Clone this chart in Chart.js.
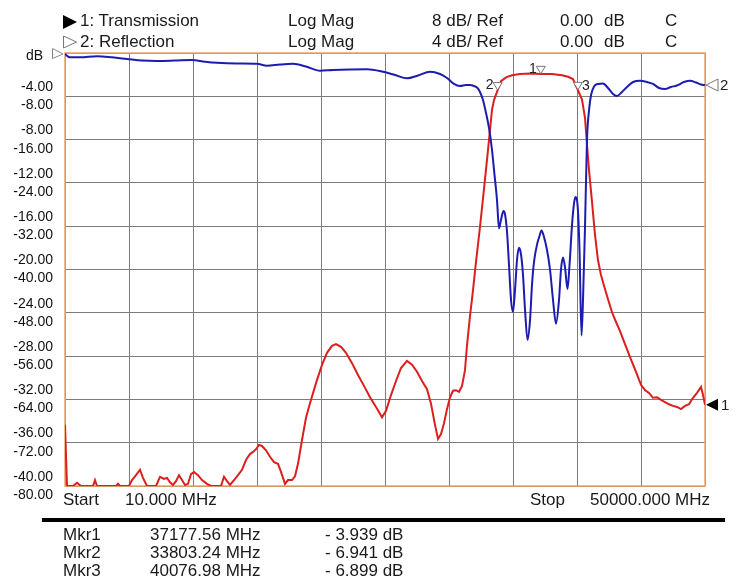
<!DOCTYPE html>
<html>
<head>
<meta charset="utf-8">
<title>Transmission / Reflection</title>
<script src="https://cdn.jsdelivr.net/npm/chart.js@4.4.1/dist/chart.umd.min.js"></script>
<style>
  body { margin: 0; background: #fff; font-family: "Liberation Sans", Arial, sans-serif; color: #1a1a1a; }
  #wrap { position: relative; width: 739px; height: 584px; overflow: hidden; }
  #vna { position: absolute; left: 0; top: 0; }
  .t { position: absolute; font-size: 17px; line-height: 20px; white-space: pre; }
  #rule { position: absolute; left: 42px; top: 518px; width: 683px; height: 4px; background: #000; }
</style>
</head>
<body>
<div id="wrap">
  <canvas id="vna" width="739" height="584"></canvas>
  <div id="rule"></div>
</div>
<script>
// sweep
const startMHz = 10;
const stopMHz = 50000;
const divisions = 10;

// channel header
const traceNames = ['1: Transmission', '2: Reflection'];
const traceFormat = ['Log Mag', 'Log Mag'];
const tracePerDiv = [8, 4];
const traceRef = [0, 0];

// trace 1 - transmission (dB, 8 dB/div)
const trace1Freq = [10,166,635,947,1260,2197,2353,2510,3994,4150,
  4306,5009,5243,5556,5868,6102,6415,7118,7430,7743,
  7977,8211,8446,8680,8914,9149,9383,9617,9852,10086,
  10398,10711,11101,11414,12195,12429,12664,12898,13210,13523,
  13835,14148,14460,14694,14929,15163,15397,15710,16022,16335,
  16647,16882,17194,17428,17741,17975,18209,18522,18834,19147,
  19616,20084,20475,20865,21178,21568,21959,22428,22897,23365,
  23834,24303,24771,25084,25474,25865,26255,26724,27115,27505,
  27896,28286,28599,28911,29145,29380,29614,29848,30083,30317,
  30551,30786,31020,31254,31410,31645,31879,32114,32426,32739,
  33051,33207,33364,33520,33754,34067,34457,34926,35551,36332,
  37191,38050,38831,39300,39690,40081,40393,40627,40784,40940,
  41174,41408,41643,41877,42111,42424,42736,43049,43362,43752,
  44143,44611,45001,45314,45626,45939,46251,46564,46876,47189,
  47501,47814,48126,48439,48751,49064,49376,49689,49845,50000];
const trace1Db = [-68.7,-80,-80,-79.4,-80,-80,-78.9,-80,-80,-79.6,
  -80,-80,-78.9,-78.0,-77.0,-78.5,-80,-80,-78.3,-78.7,
  -78.5,-79.3,-79.8,-79.1,-78.0,-78.9,-79.8,-79.6,-77.8,-77.4,
  -78.0,-78.9,-79.6,-80,-80,-78.3,-79.1,-79.8,-78.9,-78.0,
  -77.0,-75.2,-74.1,-73.7,-73.2,-72.4,-72.6,-73.4,-74.6,-75.6,
  -75.9,-77.4,-79.6,-78.9,-78.9,-78.2,-75.9,-71.5,-67.4,-64.7,
  -61.0,-57.6,-55.4,-54.1,-53.8,-54.3,-55.4,-57.3,-59.5,-61.5,
  -63.6,-65.4,-67.3,-66.1,-63.2,-60.6,-58.2,-56.9,-57.6,-58.9,
  -60.6,-62.1,-64.8,-68.7,-71.3,-70.4,-68.4,-65.8,-63.6,-62.4,
  -62.3,-62.6,-61.5,-58.6,-54.0,-48.6,-43.8,-38.6,-32.1,-25.1,
  -17.9,-14.2,-10.5,-8.7,-7.2,-5.2,-4.5,-4.1,-3.9,-3.8,
  -3.9,-3.9,-4.1,-4.4,-4.8,-6.9,-8.6,-12.0,-17.0,-21.6,
  -27.5,-33.6,-38.3,-41.0,-43.0,-45.5,-47.9,-49.7,-51.4,-53.8,
  -56.2,-58.9,-61.3,-62.3,-62.8,-63.7,-63.6,-64.1,-64.5,-64.9,
  -65.2,-65.4,-65.8,-65.2,-64.9,-63.7,-62.8,-61.7,-63.2,-65.0];

// trace 2 - reflection (dB, 4 dB/div)
const trace2Freq = [10,400,1182,2510,3681,4853,6024,7196,8602,9930,
  10945,11883,13445,15007,15788,16804,17819,18834,19928,20943,
  22271,23599,24849,25786,26724,27583,28520,29301,29848,30395,
  30864,31332,31645,31958,32192,32426,32660,32895,33129,33364,
  33520,33754,33910,34067,34262,34379,34535,34692,34848,35004,
  35160,35317,35473,35629,35785,35942,36137,36332,36488,36645,
  36879,37074,37230,37426,37660,37894,38128,38362,38597,38753,
  38909,39066,39261,39417,39612,39769,39886,40042,40198,40354,
  40471,40627,40784,40940,41096,41330,41643,42033,42424,42814,
  43127,43518,43908,44377,44924,45470,45939,46407,46876,47345,
  47814,48360,48829,49298,49689,50000];
const trace2Db = [-0.1,-0.4,-0.4,-0.3,-0.4,-0.55,-0.7,-0.74,-0.7,-0.65,
  -0.8,-0.9,-0.97,-1.0,-1.17,-1.06,-1.0,-1.25,-1.64,-1.57,
  -1.52,-1.5,-1.73,-2.03,-2.34,-2.08,-1.73,-1.94,-2.31,-2.86,
  -3.05,-2.96,-2.96,-3.05,-3.19,-3.6,-4.34,-5.54,-6.93,-8.96,
  -10.8,-13.6,-16.2,-15.4,-14.6,-14.9,-16.5,-19.6,-22.8,-23.9,
  -21.9,-19.1,-18.0,-18.6,-20.5,-23.7,-26.5,-24.7,-21.4,-19.3,
  -17.7,-16.9,-16.4,-17.0,-18.2,-20.0,-22.8,-25.0,-22.8,-20.0,
  -18.9,-19.8,-21.8,-19.6,-15.9,-13.9,-13.3,-14.0,-18.2,-26.1,
  -22.8,-16.1,-8.0,-5.3,-3.9,-3.1,-2.86,-2.82,-3.23,-3.79,
  -3.97,-3.6,-3.14,-2.68,-2.56,-2.68,-2.86,-3.23,-3.33,-3.14,
  -3.0,-2.68,-2.56,-2.73,-2.91,-2.96];

// markers (on trace 1)
const mkrNames = ['Mkr1', 'Mkr2', 'Mkr3'];
const mkrFreq = [37177.56, 33803.24, 40076.98];
const mkrDb = [-3.939, -6.941, -6.899];

const RED = '#dc1e1e';
const BLUE = '#1c1cb0';
const FRAME = '#eca466';
const GRID = '#7c7c7c';

// ---- text around the plot (real html text) ----
const wrap = document.getElementById('wrap');
function addText(str, left, centerY, size) {
  const d = document.createElement('div');
  d.className = 't';
  d.textContent = str;
  d.style.left = left + 'px';
  d.style.top = (centerY - 10) + 'px';
  if (size) d.style.fontSize = size + 'px';
  wrap.appendChild(d);
}
traceNames.forEach((name, i) => {
  const cy = 21 + i * 21;
  addText(name, 80, cy);
  addText(traceFormat[i], 288, cy);
  addText(tracePerDiv[i] + ' dB/ Ref', 432, cy);
  addText(traceRef[i].toFixed(2), 560, cy);
  addText('dB', 604, cy);
  addText('C', 665, cy);
});
addText('Start', 63, 500);
addText(startMHz.toFixed(3) + ' MHz', 125, 500);
addText('Stop', 530, 500);
addText(stopMHz.toFixed(3) + ' MHz', 590, 500);
mkrNames.forEach((m, i) => {
  const cy = 535 + i * 18;
  addText(m, 63, cy);
  addText(mkrFreq[i].toFixed(2) + ' MHz', 150, cy);
  addText('- ' + Math.abs(mkrDb[i]).toFixed(3) + ' dB', 325, cy);
});

// ---- drawing helpers ----
function triangle(ctx, pts, fill, stroke) {
  ctx.beginPath();
  ctx.moveTo(pts[0][0], pts[0][1]);
  ctx.lineTo(pts[1][0], pts[1][1]);
  ctx.lineTo(pts[2][0], pts[2][1]);
  ctx.closePath();
  if (fill) { ctx.fillStyle = fill; ctx.fill(); }
  if (stroke) { ctx.strokeStyle = stroke; ctx.lineWidth = 1; ctx.stroke(); }
}

const vnaDecor = {
  id: 'vnaDecor',
  beforeDatasetsDraw(chart) {
    const { ctx, chartArea: a } = chart;
    ctx.save();
    ctx.strokeStyle = FRAME;
    ctx.lineWidth = 1.5;
    ctx.strokeRect(a.left, a.top, a.right - a.left, a.bottom - a.top);
    ctx.restore();
  },
  afterDatasetsDraw(chart) {
    const { ctx, chartArea: a } = chart;
    const xs = chart.scales.x, y1 = chart.scales.y, y2 = chart.scales.y2;
    ctx.save();
    ctx.font = '14px "Liberation Sans", Arial, sans-serif';
    ctx.textBaseline = 'middle';

    // header trace symbols
    triangle(ctx, [[63, 15], [77, 22], [63, 29]], '#000', null);
    triangle(ctx, [[63.5, 36], [76.5, 42], [63.5, 48]], '#fff', '#777');

    // reference marker + unit on the left
    const yRef = y1.getPixelForValue(traceRef[0]);
    ctx.fillStyle = '#111';
    ctx.textAlign = 'right';
    ctx.fillText('dB', 43, yRef + 3);
    triangle(ctx, [[52.5, yRef - 4.5], [63, yRef + 1], [52.5, yRef + 5.5]], '#fff', '#888');

    // markers on trace 1
    mkrFreq.forEach((f, i) => {
      const px = xs.getPixelForValue(f);
      const py = y1.getPixelForValue(mkrDb[i]);
      triangle(ctx, [[px - 4.5, py - 8], [px + 4.5, py - 8], [px, py - 0.5]], '#fff', '#777');
      ctx.fillStyle = '#222';
      if (i === 2) { ctx.textAlign = 'left'; ctx.fillText(String(i + 1), px + 4, py - 4); }
      else { ctx.textAlign = 'right'; ctx.fillText(String(i + 1), px - 4, py - 5); }
    });

    // end-of-sweep level markers on the right
    ctx.font = '15px "Liberation Sans", Arial, sans-serif';
    ctx.textAlign = 'left';
    const e2 = y2.getPixelForValue(trace2Db[trace2Db.length - 1]);
    triangle(ctx, [[a.right + 1, e2], [a.right + 13, e2 - 6], [a.right + 13, e2 + 6]], '#fff', '#777');
    ctx.fillStyle = '#222';
    ctx.fillText('2', a.right + 15, e2 + 1);
    const e1 = y1.getPixelForValue(trace1Db[trace1Db.length - 1]);
    triangle(ctx, [[a.right + 1, e1], [a.right + 13, e1 - 6], [a.right + 13, e1 + 6]], '#000', null);
    ctx.fillStyle = '#222';
    ctx.fillText('1', a.right + 16, e1 + 1);
    ctx.restore();
  }
};

const ctx = document.getElementById('vna').getContext('2d');
new Chart(ctx, {
  type: 'line',
  data: {
    datasets: [
      {
        label: traceNames[1],
        data: trace2Freq.map((f, i) => ({ x: f, y: trace2Db[i] })),
        yAxisID: 'y2',
        borderColor: BLUE,
        borderWidth: 2,
        pointRadius: 0,
        cubicInterpolationMode: 'monotone',
        order: 0
      },
      {
        label: traceNames[0],
        data: trace1Freq.map((f, i) => ({ x: f, y: trace1Db[i] })),
        yAxisID: 'y',
        borderColor: RED,
        borderWidth: 2,
        pointRadius: 0,
        tension: 0,
        order: 1
      }
    ]
  },
  options: {
    responsive: false,
    animation: false,
    devicePixelRatio: 1,
    layout: { padding: { top: 53, right: 34, bottom: 98, left: 0 } },
    plugins: { legend: { display: false }, tooltip: { enabled: false } },
    scales: {
      x: {
        type: 'linear',
        min: startMHz,
        max: stopMHz,
        afterBuildTicks(scale) {
          const step = (stopMHz - startMHz) / divisions;
          scale.ticks = Array.from({ length: divisions + 1 }, (_, i) => ({ value: startMHz + i * step }));
        },
        afterFit(scale) { scale.height = 0; },
        ticks: { display: false },
        grid: { color: GRID, lineWidth: 1, drawTicks: false },
        border: { display: false }
      },
      y: {
        position: 'left',
        min: -tracePerDiv[0] * divisions,
        max: traceRef[0],
        afterFit(scale) { scale.width = 65; },
        ticks: {
          stepSize: tracePerDiv[0],
          padding: 12,
          color: '#111',
          font: { family: '"Liberation Sans", Arial, sans-serif', size: 14, lineHeight: 1.3 },
          callback(v) {
            if (v === 0) return '';
            return [(v * tracePerDiv[1] / tracePerDiv[0]).toFixed(2), v.toFixed(2)];
          }
        },
        grid: { color: GRID, lineWidth: 1, drawTicks: false },
        border: { display: false }
      },
      y2: {
        display: false,
        min: -tracePerDiv[1] * divisions,
        max: traceRef[1]
      }
    }
  },
  plugins: [vnaDecor]
});
</script>
</body>
</html>
